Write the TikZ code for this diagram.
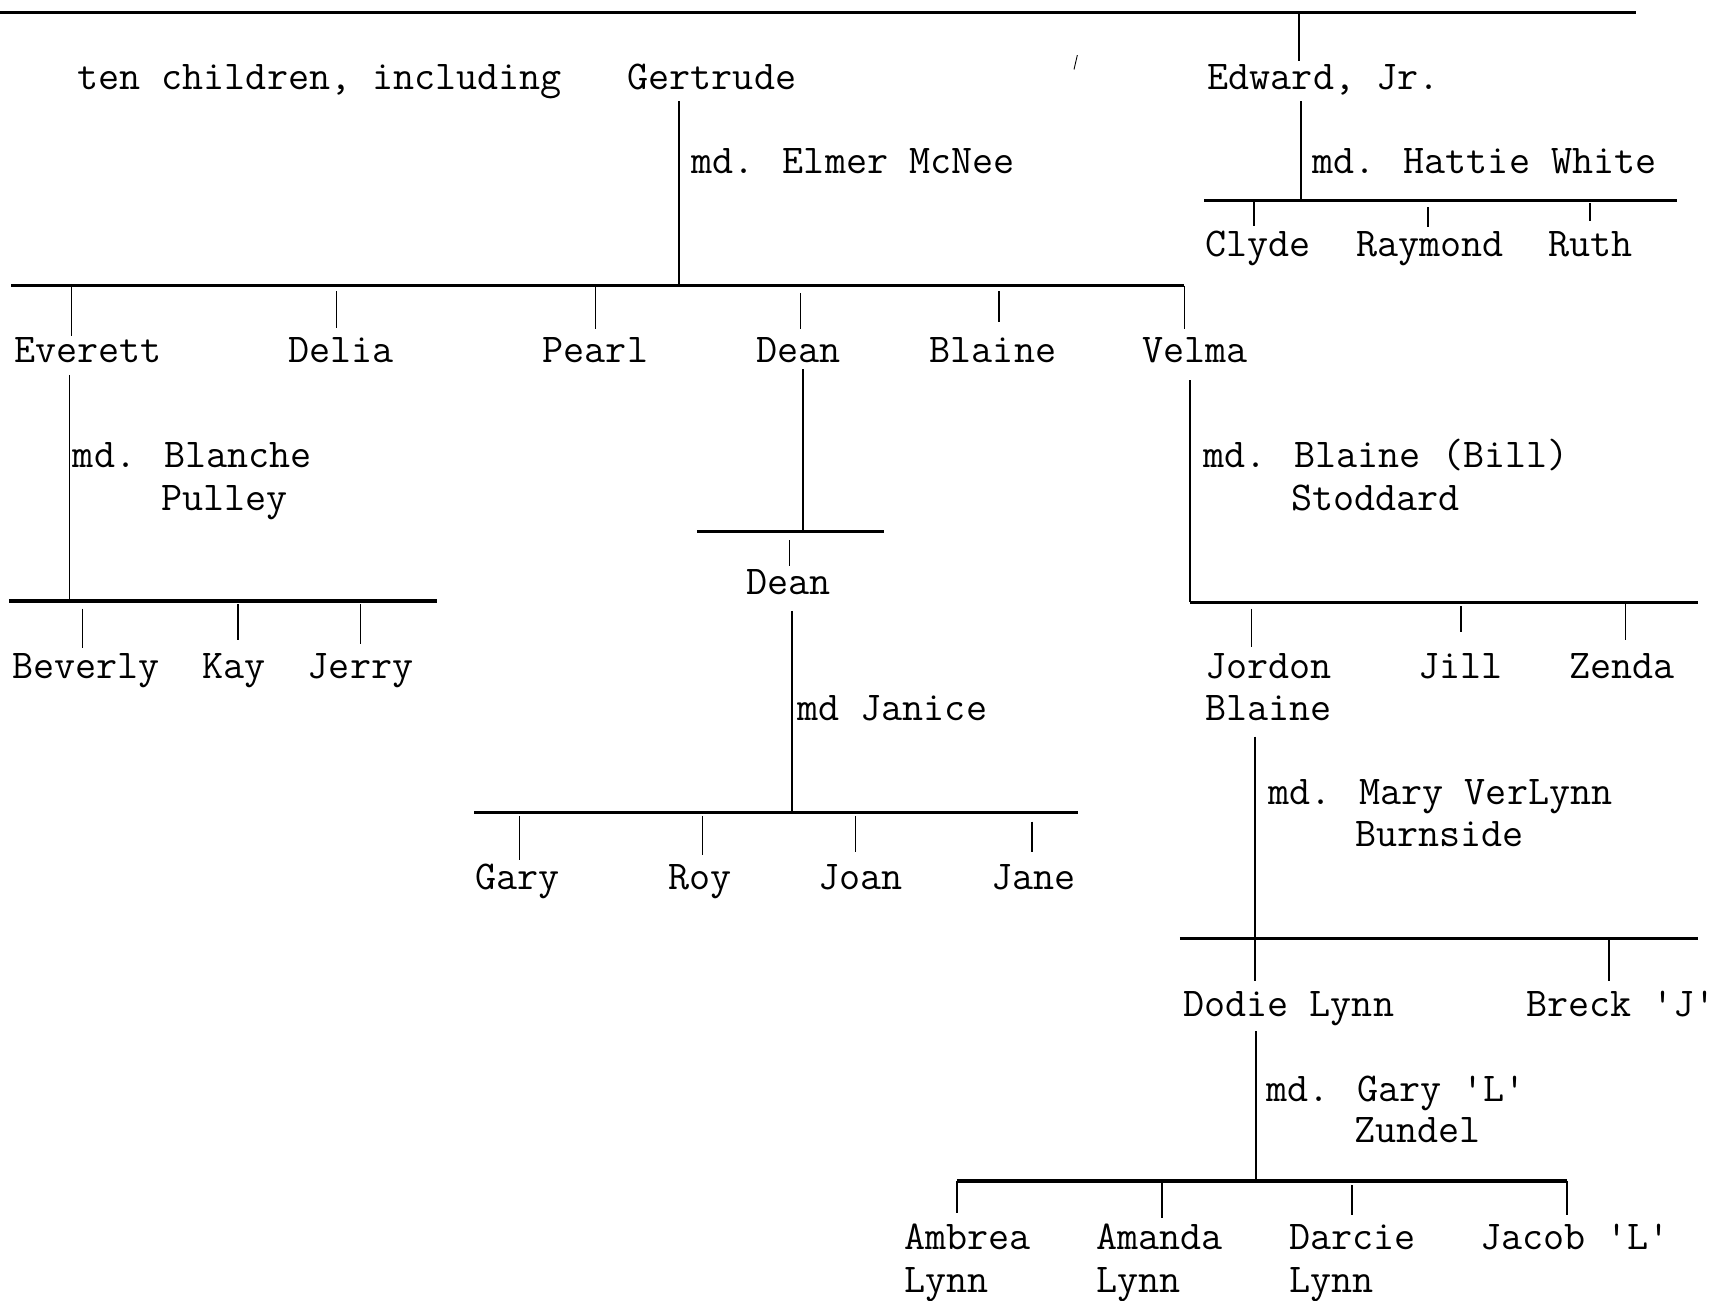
\documentclass[tikz,border=0pt]{standalone}
\usepackage{fontspec}
\begin{document}
\begin{tikzpicture}[x=1pt,y=-1pt,
  nm/.style={anchor=base west, inner sep=0pt, font=\fontsize{37.1}{44}\selectfont\ttfamily},
  bar/.style={line width=2.8pt},
  stem/.style={line width=1.6pt},
  tick/.style={line width=1.4pt}]
\useasboundingbox (0,0) rectangle (1568,1179);

% ---- names ----
\node[nm] (ten) at (70,81) {ten children, including};
\node[nm] (gertrude) at (569,81) {Gertrude};
\node[nm] (edward) at (1095,81) {Edward, Jr.};
\node[nm] (mdElmer) at (627,157) {md. Elmer McNee};
\node[nm] (mdHattie) at (1190,157) {md. Hattie White};
\node[nm] (clyde) at (1093,233) {Clyde};
\node[nm] (raymond) at (1230,233) {Raymond};
\node[nm] (ruth) at (1404,233) {Ruth};
\node[nm] (everett) at (13,329) {Everett};
\node[nm] (delia) at (261,329) {Delia};
\node[nm] (pearl) at (492,329) {Pearl};
\node[nm] (dean) at (686,329) {Dean};
\node[nm] (blaine) at (843,329) {Blaine};
\node[nm] (velma) at (1036,329) {Velma};
\node[nm] (mdBlanche) at (66,424) {md. Blanche};
\node[nm] (pulley) at (146,463) {Pulley};
\node[nm] (beverly) at (11,615) {Beverly};
\node[nm] (kay) at (183,615) {Kay};
\node[nm] (jerry) at (279,615) {Jerry};
\node[nm] (deanB) at (677,539) {Dean};
\node[nm] (mdJanice) at (723,653) {md Janice};
\node[nm] (gary) at (431,807) {Gary};
\node[nm] (roy) at (606,807) {Roy};
\node[nm] (joan) at (742,807) {Joan};
\node[nm] (jane) at (899,807) {Jane};
\node[nm] (mdBill) at (1091,424) {md. Blaine (Bill)};
\node[nm] (stoddard) at (1171,463) {Stoddard};
\node[nm] (jordon) at (1093,615) {Jordon};
\node[nm] (jordonB) at (1093,653) {Blaine};
\node[nm] (jill) at (1286,615) {Jill};
\node[nm] (zenda) at (1423,615) {Zenda};
\node[nm] (mdMary) at (1150,730) {md. Mary VerLynn};
\node[nm] (burnside) at (1229,768) {Burnside};
\node[nm] (dodie) at (1073,922) {Dodie Lynn};
\node[nm] (breck) at (1384,922) {Breck 'J'};
\node[nm] (mdGary) at (1148,999) {md. Gary 'L'};
\node[nm] (zundel) at (1228,1036) {Zundel};
\node[nm] (ambrea) at (820,1133) {Ambrea};
\node[nm] (ambreaL) at (820,1172) {Lynn};
\node[nm] (amanda) at (994,1133) {Amanda};
\node[nm] (amandaL) at (994,1172) {Lynn};
\node[nm] (darcie) at (1169,1133) {Darcie};
\node[nm] (darcieL) at (1169,1172) {Lynn};
\node[nm] (jacob) at (1342,1133) {Jacob 'L'};

% ---- bars ----
\coordinate (topL) at (0,11);      \coordinate (topR) at (1484,11);
\coordinate (b1L) at (1092,182);   \coordinate (b1R) at (1521,182);
\coordinate (b2L) at (10,259);     \coordinate (b2R) at (1074,259);
\coordinate (b3L) at (8,545);      \coordinate (b3R) at (396,545);
\coordinate (b4L) at (632,482);    \coordinate (b4R) at (802,482);
\coordinate (b5L) at (430,737);    \coordinate (b5R) at (978,737);
\coordinate (b6L) at (1079,546);   \coordinate (b6R) at (1540,546);
\coordinate (b7L) at (1070,851);   \coordinate (b7R) at (1540,851);
\coordinate (b8L) at (868,1071);   \coordinate (b8R) at (1421,1071);
\foreach \a/\b in {topL/topR,b1L/b1R,b2L/b2R,b3L/b3R,b4L/b4R,b5L/b5R,b6L/b6R,b7L/b7R,b8L/b8R}
  \draw[bar] (\a) -- (\b);

% ---- stems (parent to bar) ----
\coordinate (sEdw) at (1180,182);
\coordinate (sGer) at (616,259);
\coordinate (sEve) at (63,545);
\coordinate (sDea) at (728,482);
\coordinate (sDeB) at (718,737);
\coordinate (sVel) at (1079,546);
\coordinate (sJor) at (1138,851);
\coordinate (sDod) at (1139,1071);
\draw[stem] (sEdw |- 0,92) -- (sEdw);
\draw[stem] (sGer |- 0,92) -- (sGer);
\draw[stem] (sEve |- 0,340) -- (sEve);
\draw[stem] (sDea |- 0,335) -- (sDea);
\draw[stem] (sDeB |- 0,554) -- (sDeB);
\draw[stem] (sVel |- 0,345) -- (sVel);
\draw[stem] (sJor |- 0,668) -- (sJor);
\draw[stem] (sDod |- 0,935) -- (sDod);

% ---- ticks (bar to child) ----
\foreach \x/\ya/\yb in {
  1178/11/55,
  1137/182/205, 1295/188/206, 1442/184/200,
  65/259/305, 305/264/297, 540/260/298, 726/266/298, 906/264/292, 1074/259/298,
  75/552/588, 216/548/580, 327/548/584,
  716/490/513,
  471/740/780, 637/740/775, 776/740/773, 936/745/773,
  1135/552/587, 1325/550/573, 1474/548/580,
  1138/851/890, 1459/851/890,
  868/1071/1100, 1054/1072/1105, 1226/1075/1102, 1421/1071/1102}
  \draw[tick] (\x,\ya) -- (\x,\yb);

% stray mark
\draw[line width=0.8pt] (977,50) -- (974,63);
\end{tikzpicture}
\end{document}
